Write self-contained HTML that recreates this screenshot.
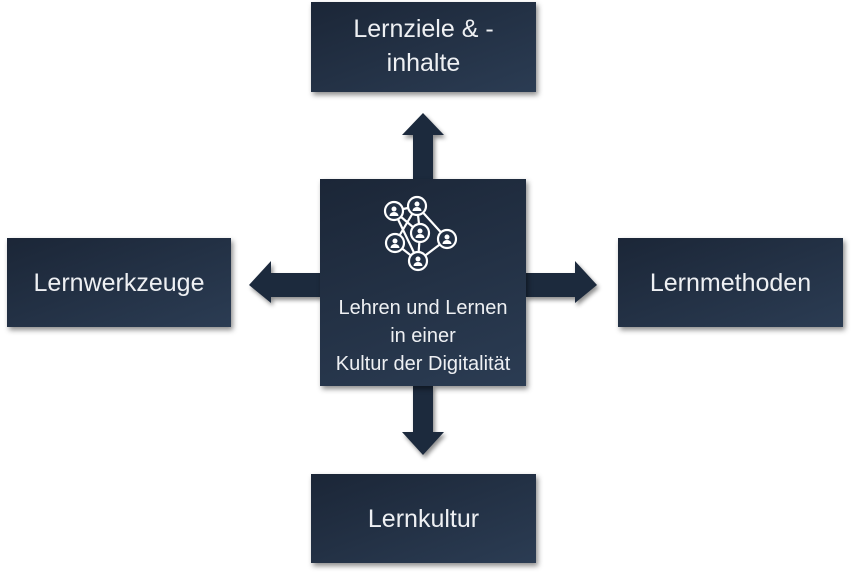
<!DOCTYPE html>
<html><head><style>
body{margin:0;width:851px;height:574px;background:#fff;position:relative;overflow:hidden;font-family:"Liberation Sans",sans-serif}
.b{position:absolute;background:linear-gradient(160deg,#1b2637,#2b3c53);box-shadow:2px 3px 5px rgba(0,0,0,0.45);color:#eef0f3;display:flex;align-items:center;justify-content:center;text-align:center;font-size:25px;line-height:32px}
svg{position:absolute;left:0;top:0}
</style></head><body>
<svg width="851" height="574">
<defs><filter id="s"><feDropShadow dx="2" dy="3" stdDeviation="2" flood-opacity="0.45"/></filter></defs>
<g fill="#1f2b3d" filter="url(#s)">
<polygon points="413,180 413,135 402,135 423,113 444,135 433,135 433,180"/>
<polygon points="413,385 413,432 402,432 423,455 444,432 433,432 433,385"/>
<polygon points="321,273 271,273 271,261 249,285 271,303 271,297 321,297"/>
<polygon points="525,273 575,273 575,261 597,285 575,303 575,297 525,297"/>
</g>
</svg>
<div class="b" style="left:311px;top:2px;width:225px;height:90px;line-height:34px;padding-bottom:2px;box-sizing:border-box">Lernziele &amp; -<br>inhalte</div>
<div class="b" style="left:7px;top:238px;width:224px;height:89px">Lernwerkzeuge</div>
<div class="b" style="left:618px;top:238px;width:225px;height:89px">Lernmethoden</div>
<div class="b" style="left:311px;top:474px;width:225px;height:89px">Lernkultur</div>
<div class="b" style="left:320px;top:179px;width:206px;height:207px;font-size:20px;line-height:28px;align-items:flex-start">
<div>
<svg style="position:relative;display:block;margin:16px auto 0" width="90" height="80" viewBox="0 0 90 80">
<g stroke="#fff" stroke-width="2.2" fill="none">
<line x1="16" y1="16" x2="39" y2="11"/><line x1="16" y1="16" x2="42" y2="38"/><line x1="39" y1="11" x2="42" y2="38"/>
<line x1="39" y1="11" x2="17" y2="48"/><line x1="39" y1="11" x2="69" y2="44"/><line x1="42" y1="38" x2="40" y2="66"/>
<line x1="17" y1="48" x2="40" y2="66"/><line x1="69" y1="44" x2="40" y2="66"/><line x1="16" y1="16" x2="40" y2="66"/>
</g>
<g fill="#223044" stroke="#fff" stroke-width="2.2">
<circle cx="16" cy="16" r="9"/><circle cx="39" cy="11" r="9"/><circle cx="42" cy="38" r="9"/>
<circle cx="17" cy="48" r="9"/><circle cx="69" cy="44" r="9"/><circle cx="40" cy="66" r="9"/>
</g>
<g fill="#fff">
<circle cx="16" cy="14" r="2.5"/><circle cx="39" cy="9" r="2.5"/><circle cx="42" cy="36" r="2.5"/><circle cx="17" cy="46" r="2.5"/><circle cx="69" cy="42" r="2.5"/><circle cx="40" cy="64" r="2.5"/>
<path d="M11.5 21a4.5 4 0 0 1 9 0z"/><path d="M34.5 16a4.5 4 0 0 1 9 0z"/><path d="M37.5 43a4.5 4 0 0 1 9 0z"/><path d="M12.5 53a4.5 4 0 0 1 9 0z"/><path d="M64.5 49a4.5 4 0 0 1 9 0z"/><path d="M35.5 71a4.5 4 0 0 1 9 0z"/>
</g>
</svg>
<div style="margin-top:19px">Lehren und Lernen<br>in einer<br>Kultur der Digitalität</div>
</div></div>
</body></html>
